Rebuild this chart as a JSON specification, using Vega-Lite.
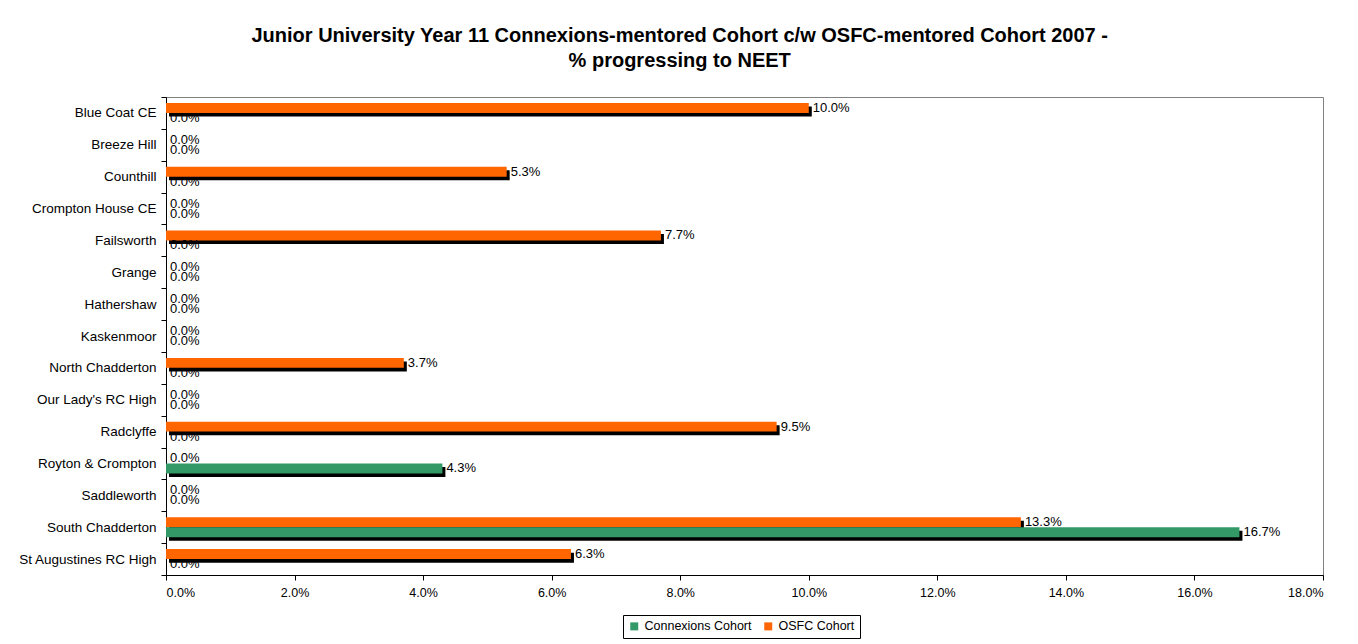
{
  "$schema": "https://vega.github.io/schema/vega-lite/v6.json",
  "autosize": "none",
  "width": 1157,
  "height": 478,
  "padding": {"left": 166, "top": 97, "right": 35, "bottom": 69},
  "background": "white",
  "config": {
    "font": "Liberation Sans",
    "view": {"stroke": "#808080", "strokeWidth": 1}
  },
  "title": {
    "text": ["Junior University Year 11 Connexions-mentored Cohort c/w OSFC-mentored Cohort 2007 -", "% progressing to NEET"],
    "font": "Liberation Sans",
    "fontSize": 20,
    "fontWeight": "bold",
    "color": "black",
    "anchor": "middle",
    "frame": "bounds",
    "lineHeight": 25,
    "offset": 19,
    "dx": 9
  },
  "data": {
    "values": [
      {"school": "Blue Coat CE", "series": "OSFC Cohort", "value": 0.100},
      {"school": "Blue Coat CE", "series": "Connexions Cohort", "value": 0.0},
      {"school": "Breeze Hill", "series": "OSFC Cohort", "value": 0.0},
      {"school": "Breeze Hill", "series": "Connexions Cohort", "value": 0.0},
      {"school": "Counthill", "series": "OSFC Cohort", "value": 0.053},
      {"school": "Counthill", "series": "Connexions Cohort", "value": 0.0},
      {"school": "Crompton House CE", "series": "OSFC Cohort", "value": 0.0},
      {"school": "Crompton House CE", "series": "Connexions Cohort", "value": 0.0},
      {"school": "Failsworth", "series": "OSFC Cohort", "value": 0.077},
      {"school": "Failsworth", "series": "Connexions Cohort", "value": 0.0},
      {"school": "Grange", "series": "OSFC Cohort", "value": 0.0},
      {"school": "Grange", "series": "Connexions Cohort", "value": 0.0},
      {"school": "Hathershaw", "series": "OSFC Cohort", "value": 0.0},
      {"school": "Hathershaw", "series": "Connexions Cohort", "value": 0.0},
      {"school": "Kaskenmoor", "series": "OSFC Cohort", "value": 0.0},
      {"school": "Kaskenmoor", "series": "Connexions Cohort", "value": 0.0},
      {"school": "North Chadderton", "series": "OSFC Cohort", "value": 0.037},
      {"school": "North Chadderton", "series": "Connexions Cohort", "value": 0.0},
      {"school": "Our Lady's RC High", "series": "OSFC Cohort", "value": 0.0},
      {"school": "Our Lady's RC High", "series": "Connexions Cohort", "value": 0.0},
      {"school": "Radclyffe", "series": "OSFC Cohort", "value": 0.095},
      {"school": "Radclyffe", "series": "Connexions Cohort", "value": 0.0},
      {"school": "Royton & Crompton", "series": "OSFC Cohort", "value": 0.0},
      {"school": "Royton & Crompton", "series": "Connexions Cohort", "value": 0.043},
      {"school": "Saddleworth", "series": "OSFC Cohort", "value": 0.0},
      {"school": "Saddleworth", "series": "Connexions Cohort", "value": 0.0},
      {"school": "South Chadderton", "series": "OSFC Cohort", "value": 0.133},
      {"school": "South Chadderton", "series": "Connexions Cohort", "value": 0.167},
      {"school": "St Augustines RC High", "series": "OSFC Cohort", "value": 0.063},
      {"school": "St Augustines RC High", "series": "Connexions Cohort", "value": 0.0}
    ]
  },
  "encoding": {
    "y": {
      "field": "school",
      "type": "nominal",
      "sort": null,
      "title": null,
      "scale": {"paddingInner": 0, "paddingOuter": 0},
      "axis": {
        "tickBand": "extent",
        "tickSize": 5,
        "tickColor": "black",
        "domainColor": "black",
        "labelPadding": 5,
        "labelFontSize": 13.5,
        "labelColor": "black",
        "labelFont": "Liberation Sans"
      }
    },
    "x": {
      "field": "value",
      "type": "quantitative",
      "title": null,
      "scale": {"domain": [0, 0.18], "nice": false},
      "axis": {
        "values": [0, 0.02, 0.04, 0.06, 0.08, 0.1, 0.12, 0.14, 0.16, 0.18],
        "format": ".1%",
        "grid": false,
        "tickSize": 5,
        "tickColor": "black",
        "domainColor": "black",
        "labelPadding": 6,
        "labelFontSize": 12.5,
        "labelColor": "black",
        "labelFont": "Liberation Sans"
      }
    }
  },
  "resolve": {"scale": {"yOffset": "independent"}},
  "layer": [
    {
      "mark": {"type": "bar", "color": "black", "xOffset": 3},
      "encoding": {
        "yOffset": {
          "field": "series",
          "type": "nominal",
          "sort": ["OSFC Cohort", "Connexions Cohort"],
          "scale": {"paddingInner": 0, "paddingOuter": 0.6, "align": 0.8}
        }
      }
    },
    {
      "layer": [
        {
          "mark": {"type": "bar"},
          "encoding": {
            "color": {
              "field": "series",
              "type": "nominal",
              "scale": {"domain": ["Connexions Cohort", "OSFC Cohort"], "range": ["#339966", "#FF6600"]},
              "legend": {
                "orient": "none",
                "legendX": 457,
                "legendY": 518,
                "title": null,
                "direction": "horizontal",
                "symbolType": "square",
                "symbolSize": 64,
                "symbolStrokeWidth": 0,
                "labelFontSize": 12.5,
                "labelColor": "black",
                "labelFont": "Liberation Sans",
                "strokeColor": "black",
                "padding": 5,
                "columnPadding": 10
              }
            }
          }
        },
        {
          "mark": {"type": "text", "align": "left", "baseline": "middle", "dx": 4, "fontSize": 13, "color": "black", "font": "Liberation Sans"},
          "encoding": {
            "text": {"field": "value", "type": "quantitative", "format": ".1%"}
          }
        }
      ],
      "encoding": {
        "yOffset": {
          "field": "series",
          "type": "nominal",
          "sort": ["OSFC Cohort", "Connexions Cohort"],
          "scale": {"paddingInner": 0, "paddingOuter": 0.6, "align": 0.5}
        }
      }
    }
  ]
}
